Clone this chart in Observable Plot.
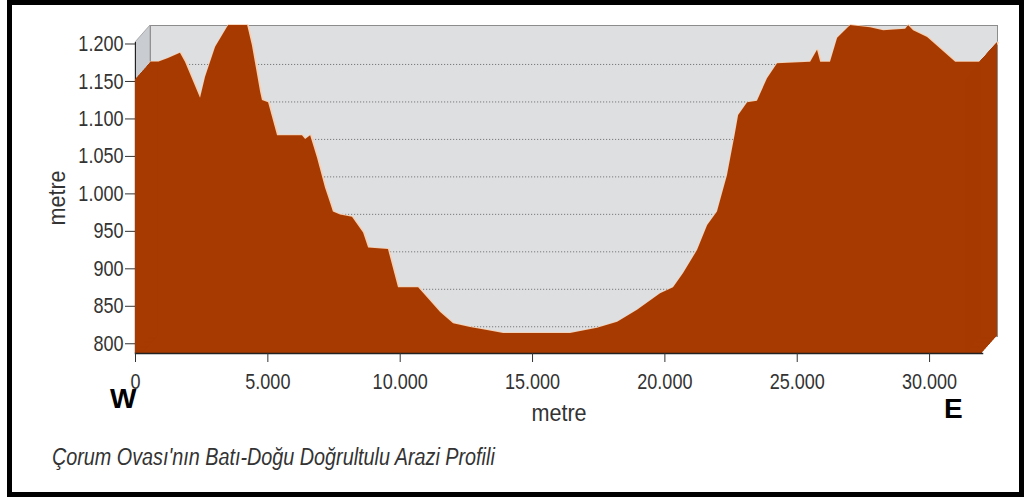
<!DOCTYPE html>
<html><head><meta charset="utf-8">
<script src="https://cdn.jsdelivr.net/npm/d3@7"></script>
<script src="https://cdn.jsdelivr.net/npm/@observablehq/plot@0.6"></script>
<style>
html,body{margin:0;padding:0;background:#fff}
body{width:1025px;height:498px;position:relative;overflow:hidden;font-family:"Liberation Sans",Arial,sans-serif}
#box{position:absolute;left:7px;top:0;width:1007px;height:487px;border:5px solid #000}
#chart{position:absolute;left:0;top:0}
.dir{position:absolute;font-family:"Liberation Sans",Arial,sans-serif;font-weight:bold;font-size:28px;line-height:1;color:#000}
#cap{position:absolute;left:52px;top:446px;font-style:italic;font-size:23px;line-height:1;color:#333;white-space:nowrap;transform:scaleX(0.86);transform-origin:0 0}
</style></head>
<body>
<div id="box"></div>
<div id="chart"></div>
<div class="dir" id="w" style="left:110px;top:385px">W</div>
<div class="dir" id="e" style="left:944px;top:395px">E</div>
<div id="cap">Çorum Ovası'nın Batı-Doğu Doğrultulu Arazi Profili</div>
<script>
// distance along the W-E profile (metres)
const distance = [0, 300, 680, 1130, 1320, 1890, 2080, 2460, 2950, 3670, 3850, 4160, 4230, 4460, 4800, 5740, 5860, 6050, 6310, 6610, 6800, 6910, 7180, 7630, 8050, 8240, 8990, 9370, 10130, 10960, 11450, 12090, 12730, 13340, 15870, 16890, 17650, 18400, 19270, 19760, 20140, 20670, 21050, 21420, 21800, 22100, 22220, 22560, 22930, 23310, 23690, 24940, 25200, 25320, 25690, 25960, 26450, 27200, 27700, 28530, 28640, 28830, 29360, 30420, 31360, 32000];
// elevation (metres)
const elevation = [1153, 1153, 1158, 1165, 1153, 1105, 1133, 1173, 1202, 1202, 1175, 1113, 1102, 1099, 1055, 1055, 1050, 1055, 1025, 985, 965, 953, 949, 946, 925, 905, 903, 852, 852, 819, 804, 799, 795, 791, 791, 798, 806, 822, 844, 852, 871, 902, 935, 953, 1002, 1058, 1082, 1099, 1101, 1131, 1151, 1153, 1169, 1153, 1153, 1185, 1202, 1199, 1195, 1197, 1202, 1195, 1186, 1153, 1153, 1179];
const xTicks = [0, 5000, 10000, 15000, 20000, 25000, 30000];
const yTicks = [800, 850, 900, 950, 1000, 1050, 1100, 1150, 1200];
const xDomain = [0, 32000];
const yDomain = [787, 1202];

const W = 1025, H = 430, mL = 135, mR = 43, mT = 42, mB = 77;
const depthX = 15, depthY = -17;
const areaColor = "#a63a00";
const data = distance.map((d, i) => ({distance: d, elevation: elevation[i]}));
const trFmt = d => d3.format(",")(d).replace(/,/g, ".");
// elevation whose front-plane position equals the floor of the back plane
const floorTop = yDomain[0] - depthY * (yDomain[1] - yDomain[0]) / (H - mT - mB);

// left side wall of the 3D box
function wall(index, scales, values, dims) {
  const x0 = dims.marginLeft, yT = dims.marginTop, yB = dims.height - dims.marginBottom;
  const p = document.createElementNS("http://www.w3.org/2000/svg", "path");
  p.setAttribute("d", `M${x0},${yT}L${x0 + depthX},${yT + depthY}L${x0 + depthX},${yB + depthY}L${x0},${yB}Z`);
  p.setAttribute("fill", "#c9ccd0");
  p.setAttribute("stroke", "#9a9a9a");
  p.setAttribute("stroke-width", "0.8");
  return p;
}

// end caps of the 3D ribbon: the first and last segments swept through the depth
const caps = d3.range(0, depthX + 1).flatMap(k => [
  Plot.areaY(data.slice(0, 2), {x: "distance", y1: yDomain[0], y2: "elevation", fill: areaColor, dx: k, dy: k * depthY / depthX}),
  Plot.areaY(data.slice(-2), {x: "distance", y1: yDomain[0], y2: "elevation", fill: areaColor, dx: k, dy: k * depthY / depthX})
]);

const chart = Plot.plot({
  width: W,
  height: H,
  marginLeft: mL,
  marginRight: mR,
  marginTop: mT,
  marginBottom: mB,
  style: {fontFamily: "'Liberation Sans',Arial,sans-serif", fontSize: "22px", color: "#333", background: "transparent", overflow: "visible"},
  x: {domain: xDomain},
  y: {domain: yDomain},
  marks: [
    Plot.frame({fill: "#dedfe1", stroke: "#8c8c8c", insetLeft: depthX, insetRight: -depthX, insetTop: depthY, insetBottom: -depthY}),
    wall,
    Plot.ruleY(yTicks.slice(0, -1), {stroke: "#7a7a7a", strokeDasharray: "1.2,1.8", dx: depthX, dy: depthY}),
    Plot.frame({anchor: "left", stroke: "#222"}),
    Plot.lineY(data, {x: "distance", y: "elevation", stroke: "#f7cfb0", strokeWidth: 2.5, dx: depthX, dy: depthY}),
    // back face of the ribbon (its top edge is the visible profile)
    Plot.areaY(data, {x: "distance", y1: yDomain[0], y2: "elevation", fill: areaColor, dx: depthX, dy: depthY}),
    // floor strip of the front face
    Plot.areaY(data, {x: "distance", y1: yDomain[0], y2: floorTop, fill: areaColor}),
    ...caps,
    Plot.frame({anchor: "bottom", stroke: "#222", strokeWidth: 1.5}),
    Plot.axisY({ticks: yTicks, tickFormat: trFmt, tickSize: 10, tickPadding: 2, label: "metre", labelAnchor: "center", labelOffset: 88, labelArrow: "none"}),
    Plot.axisX({ticks: xTicks, tickFormat: trFmt, tickSize: 9, tickPadding: 11, label: "metre", labelAnchor: "center", labelOffset: 67, labelArrow: "none"})
  ]
});

// condensed look of the original chart's font: squeeze each text horizontally around its anchor
function squeeze(sel, s) {
  sel.each(function () {
    const t = this.getAttribute("transform") || "";
    const x = parseFloat(this.getAttribute("x"));
    const x0 = (isFinite(x) && !/em/.test(this.getAttribute("x") || "")) ? x : 0;
    this.setAttribute("transform", `${t} translate(${x0},0) scale(${s},1) translate(${-x0},0)`);
  });
}
const svg = d3.select(chart);
svg.selectAll("g[aria-label$='axis label']").attr("font-size", 24);
squeeze(svg.selectAll("g[aria-label$='tick label'] text"), 0.82);
squeeze(svg.selectAll("g[aria-label$='axis label'] text"), 0.9);
document.getElementById("chart").appendChild(chart);
</script>
</body></html>
